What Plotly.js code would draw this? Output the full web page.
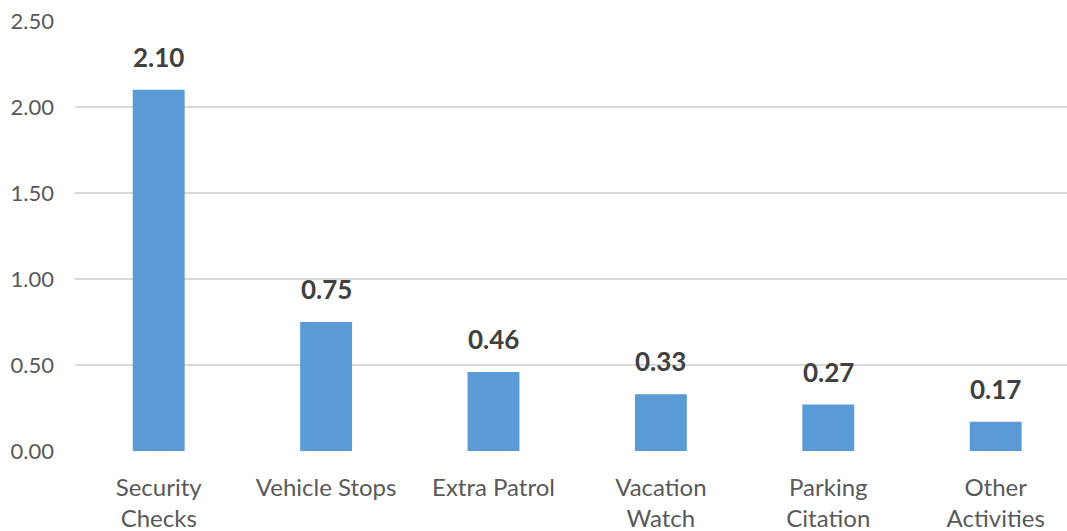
<!DOCTYPE html>
<html>
<head>
<meta charset="utf-8">
<script src="https://cdn.plot.ly/plotly-3.0.1.min.js"></script>
<style>html,body{margin:0;padding:0;background:#fff;overflow:hidden}#chart{width:1067px;height:531px}</style>
</head>
<body>
<div id="chart"></div>
<script>
var categories = ["Security<br>Checks", "Vehicle Stops", "Extra Patrol", "Vacation<br>Watch", "Parking<br>Citation", "Other<br>Activities"];
var values = [2.10, 0.75, 0.46, 0.33, 0.27, 0.17];
var valueLabels = ["2.10", "0.75", "0.46", "0.33", "0.27", "0.17"];
var yTicks = [0, 0.5, 1.0, 1.5, 2.0, 2.5];
var yTickLabels = ["0.00", "0.50", "1.00", "1.50", "2.00", "2.50"];

var FONT = "Lato, 'Open Sans', sans-serif";

var trace = {
  type: "bar",
  x: categories,
  y: values,
  marker: {color: "#5B9BD5"},
  hoverinfo: "none"
};

var annotations = categories.map(function(c, i) {
  return {
    x: c, y: values[i], xref: "x", yref: "y",
    text: "<b>" + valueLabels[i] + "</b>",
    showarrow: false, yanchor: "bottom", yshift: 15,
    font: {family: FONT, size: 26, color: "#404040"}
  };
});

var layout = {
  width: 1067, height: 531,
  margin: {l: 75, r: 0, t: 21, b: 80},
  paper_bgcolor: "#fff", plot_bgcolor: "#fff",
  bargap: 0.69,
  showlegend: false,
  font: {family: FONT, color: "#595959"},
  xaxis: {
    type: "category",
    range: [-0.5, 5.426],
    showgrid: false, zeroline: false, showline: false,
    ticks: "",
    ticklabelstandoff: 20,
    tickfont: {family: FONT, size: 24, color: "#595959"},
    automargin: false
  },
  yaxis: {
    range: [0, 2.5],
    tickvals: yTicks, ticktext: yTickLabels,
    showgrid: true, gridcolor: "#D9D9D9", gridwidth: 1.5,
    zeroline: false, showline: false, ticks: "",
    ticklabelstandoff: 20,
    tickfont: {family: FONT, size: 22, color: "#595959"},
    automargin: false
  },
  annotations: annotations
};

Plotly.newPlot("chart", [trace], layout, {staticPlot: true, displayModeBar: false});
</script>
</body>
</html>
